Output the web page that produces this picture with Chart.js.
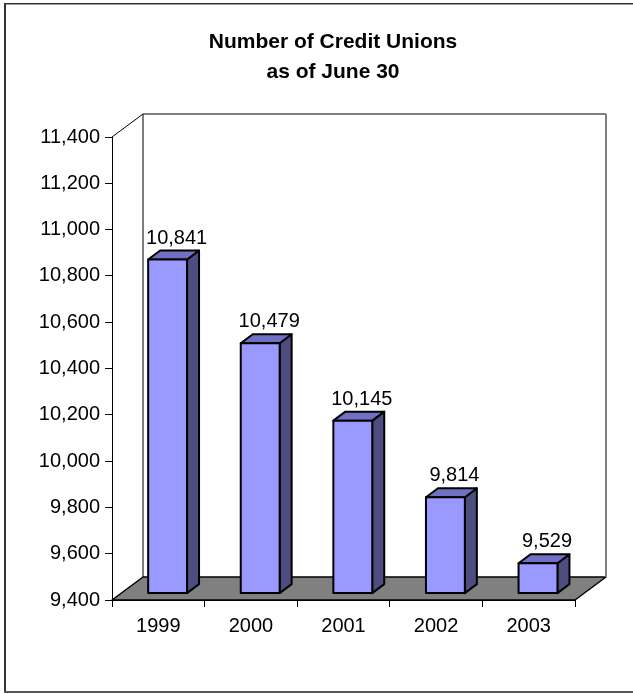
<!DOCTYPE html>
<html>
<head>
<meta charset="utf-8">
<script src="https://cdn.jsdelivr.net/npm/chart.js@4/dist/chart.umd.min.js"></script>
<style>
  html, body { margin: 0; padding: 0; background: #fff; }
  canvas { display: block; }
</style>
</head>
<body>
<canvas id="chart" width="633" height="693"></canvas>
<script>
// Data
const years = ['1999', '2000', '2001', '2002', '2003'];
const creditUnions = [10841, 10479, 10145, 9814, 9529];
const yTicks = [9400, 9600, 9800, 10000, 10200, 10400, 10600, 10800, 11000, 11200, 11400];
const titleLines = ['Number of Credit Unions', 'as of June 30'];

const FONT = '"Liberation Sans", Arial, sans-serif';
const TEXT_SIZE = 20;

// Depth of the 3D box (back wall offset from the front plane)
const DEPTH_X = 31;
const DEPTH_Y = -23;
// Bars sit between 30% and ~69% of the depth
const BAR_FRONT = 0.3;
const BAR_DX = 12;
const BAR_DY = -9;

const frame3d = {
  id: 'frame3d',
  beforeDraw(chart) {
    const ctx = chart.ctx;
    const a = chart.chartArea;
    ctx.save();
    ctx.fillStyle = '#fff';
    ctx.fillRect(0, 0, chart.width, chart.height);

    // outer frame
    ctx.fillStyle = '#333';
    ctx.fillRect(4, 3, 2, 690);
    ctx.fillRect(4, 3, chart.width - 4, 1.5);
    ctx.fillStyle = '#555';
    ctx.fillRect(4, 691, chart.width - 4, 2);

    const bl = a.left + DEPTH_X, bt = a.top + DEPTH_Y;
    const br = a.right + DEPTH_X, bb = a.bottom + DEPTH_Y;

    // floor
    ctx.beginPath();
    ctx.moveTo(a.left, a.bottom);
    ctx.lineTo(a.right, a.bottom);
    ctx.lineTo(br, bb);
    ctx.lineTo(bl, bb);
    ctx.closePath();
    ctx.fillStyle = '#808080';
    ctx.fill();
    ctx.strokeStyle = '#000';
    ctx.lineWidth = 1.5;
    ctx.lineJoin = 'round';
    ctx.stroke();

    // back wall
    ctx.lineWidth = 1;
    ctx.strokeStyle = '#000';
    ctx.beginPath();
    ctx.moveTo(a.left, a.top);
    ctx.lineTo(bl, bt);
    ctx.lineTo(br, bt);
    ctx.moveTo(bl, bt);
    ctx.lineTo(bl, bb);
    ctx.stroke();
    ctx.strokeStyle = '#808080';
    ctx.lineWidth = 2;
    ctx.beginPath();
    ctx.moveTo(br, bt);
    ctx.lineTo(br, bb);
    ctx.stroke();
    ctx.restore();
  },
  afterDatasetsDraw(chart) {
    const ctx = chart.ctx;
    const meta = chart.getDatasetMeta(0);
    const data = chart.data.datasets[0].data;
    const yScale = chart.scales.y;
    const basePx = yScale.getPixelForValue(yScale.min);
    const fx = BAR_FRONT * DEPTH_X, fy = BAR_FRONT * DEPTH_Y;
    ctx.save();
    ctx.lineWidth = 2;
    ctx.lineJoin = 'round';
    ctx.strokeStyle = '#000';
    meta.data.forEach((el, i) => {
      const p = el.getProps(['x', 'width'], true);
      const l = p.x - p.width / 2 + fx, r = p.x + p.width / 2 + fx;
      const t = yScale.getPixelForValue(data[i]) + fy, b = basePx + fy;
      // side face
      ctx.beginPath();
      ctx.moveTo(r, t);
      ctx.lineTo(r + BAR_DX, t + BAR_DY);
      ctx.lineTo(r + BAR_DX, b + BAR_DY);
      ctx.lineTo(r, b);
      ctx.closePath();
      ctx.fillStyle = '#4d4d80';
      ctx.fill();
      ctx.stroke();
      // top face
      ctx.beginPath();
      ctx.moveTo(l, t);
      ctx.lineTo(l + BAR_DX, t + BAR_DY);
      ctx.lineTo(r + BAR_DX, t + BAR_DY);
      ctx.lineTo(r, t);
      ctx.closePath();
      ctx.fillStyle = '#7070c4';
      ctx.fill();
      ctx.stroke();
      // front face
      ctx.beginPath();
      ctx.rect(l, t, r - l, b - t);
      ctx.fillStyle = '#9999ff';
      ctx.fill();
      ctx.stroke();
      // value label
      ctx.fillStyle = '#000';
      ctx.font = TEXT_SIZE + 'px ' + FONT;
      ctx.textAlign = 'center';
      ctx.textBaseline = 'alphabetic';
      ctx.fillText(data[i].toLocaleString('en-US'), p.x + fx + 9, t + BAR_DY - 7);
    });
    ctx.restore();
  }
};

new Chart(document.getElementById('chart'), {
  type: 'bar',
  data: {
    labels: years,
    datasets: [{
      data: creditUnions,
      backgroundColor: 'rgba(0,0,0,0)',
      borderWidth: 0,
      categoryPercentage: 1,
      barPercentage: 0.42
    }]
  },
  options: {
    responsive: false,
    devicePixelRatio: 1,
    animation: false,
    layout: { padding: { left: 33, right: 0, top: 0, bottom: 0 } },
    plugins: {
      legend: { display: false },
      tooltip: { enabled: false },
      title: {
        display: true,
        text: titleLines,
        color: '#000',
        font: { family: FONT, size: 21, weight: 'bold', lineHeight: 30 / 21 },
        padding: { top: 27.5, bottom: 49.5 }
      }
    },
    scales: {
      x: {
        grid: { offset: true, drawOnChartArea: false, drawTicks: true, tickLength: 7, color: '#000' },
        border: { display: true, color: '#000', width: 1 },
        ticks: { color: '#000', font: { family: FONT, size: TEXT_SIZE }, padding: 7, maxRotation: 0 },
        afterFit(s) { s.height = 93; }
      },
      y: {
        min: yTicks[0],
        max: yTicks[yTicks.length - 1],
        afterBuildTicks(s) { s.ticks = yTicks.map(v => ({ value: v })); },
        grid: { drawOnChartArea: false, drawTicks: true, tickLength: 7, color: '#000' },
        border: { display: true, color: '#000', width: 1 },
        ticks: {
          color: '#000',
          font: { family: FONT, size: TEXT_SIZE },
          padding: 5,
          callback: v => Number(v).toLocaleString('en-US')
        },
        afterFit(s) { s.width = 79; }
      },
      // empty spacer on the right, leaves room for the depth of the box
      side: {
        type: 'linear',
        position: 'right',
        display: true,
        grid: { display: false },
        border: { display: false },
        ticks: { display: false },
        afterFit(s) { s.width = 58; }
      }
    }
  },
  plugins: [frame3d]
});
</script>
</body>
</html>
